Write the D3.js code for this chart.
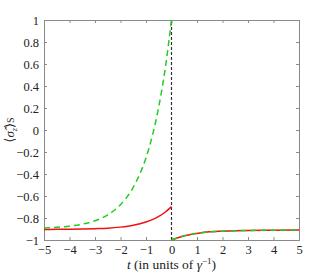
<!DOCTYPE html>
<head>
<script src="https://d3js.org/d3.v7.min.js"></script>
</head>
<style>
body { margin: 0; background: #fff; }
text { font-family: "Liberation Serif", "DejaVu Serif", serif; }
</style>
<body>
<svg></svg>
<script>
    // values
    var tBefore = [-5, -4.5, -4, -3.5, -3, -2.5, -2, -1.5, -1, -0.75, -0.5, -0.25, 0];
    var greenBefore = [-0.891, -0.885, -0.874, -0.856, -0.825, -0.771, -0.679, -0.521, -0.252, -0.052, 0.21, 0.552, 1.0];
    var redBefore = [-0.904, -0.903, -0.902, -0.9, -0.897, -0.893, -0.883, -0.866, -0.836, -0.815, -0.786, -0.748, -0.697];
    var tAfter = [0, 0.25, 0.5, 0.75, 1, 1.5, 2, 2.5, 3, 4, 5];
    var bothAfter = [-1.0, -0.979, -0.962, -0.949, -0.94, -0.926, -0.92, -0.916, -0.913, -0.911, -0.91];
    var xTicks = [-5, -4, -3, -2, -1, 0, 1, 2, 3, 4, 5];
    var yTicks = [-1, -0.8, -0.6, -0.4, -0.2, 0, 0.2, 0.4, 0.6, 0.8, 1];

    var width = 331, height = 274;
    var margin = {top: 20, right: 32, bottom: 34, left: 44};

    var svg = d3.select('svg').attr('width', width).attr('height', height);

    var x = d3.scaleLinear().domain([-5, 5]).range([margin.left, width - margin.right]);
    var y = d3.scaleLinear().domain([-1, 1]).range([height - margin.bottom, margin.top]);

    function fmt(d) { return d < 0 ? "\u2212" + Math.abs(d) : "" + d; }

    // axes with inward ticks on all four sides
    var axisColor = "#8a8a8a";
    function styleAxis(g) {
        g.select(".domain").attr("stroke", axisColor).attr("stroke-width", 1);
        g.selectAll(".tick line").attr("stroke", axisColor);
        g.selectAll(".tick text").attr("fill", "#222").style("font-size", "12.5px");
    }
    svg.append("g").attr("transform", "translate(0," + y(-1) + ")")
        .call(d3.axisBottom(x).tickValues(xTicks).tickSize(-3).tickPadding(5).tickFormat(fmt))
        .call(styleAxis);
    svg.append("g").attr("transform", "translate(0," + y(1) + ")")
        .call(d3.axisTop(x).tickValues(xTicks).tickSize(-3).tickFormat(""))
        .call(styleAxis);
    svg.append("g").attr("transform", "translate(" + x(-5) + ",0)")
        .call(d3.axisLeft(y).tickValues(yTicks).tickSize(-3).tickPadding(5).tickFormat(fmt))
        .call(styleAxis);
    svg.append("g").attr("transform", "translate(" + x(5) + ",0)")
        .call(d3.axisRight(y).tickValues(yTicks).tickSize(-3).tickFormat(""))
        .call(styleAxis);

    // vertical marker at t = 0
    svg.append("line")
        .attr("x1", x(0)).attr("x2", x(0)).attr("y1", y(-1)).attr("y2", y(1))
        .attr("stroke", "#333").attr("stroke-width", 1.2).attr("stroke-dasharray", "3,2");

    var line = d3.line()
        .x(function (d) { return x(d[0]); })
        .y(function (d) { return y(d[1]); })
        .curve(d3.curveMonotoneX);

    function pairs(ts, vs) { return ts.map(function (t, i) { return [t, vs[i]]; }); }

    var red = "#f01010", green = "#22cc22";

    svg.append("path").datum(pairs(tBefore, redBefore)).attr("d", line)
        .attr("fill", "none").attr("stroke", red).attr("stroke-width", 1.5);
    svg.append("path").datum(pairs(tAfter, bothAfter)).attr("d", line)
        .attr("fill", "none").attr("stroke", red).attr("stroke-width", 1.5);
    svg.append("path").datum(pairs(tBefore, greenBefore)).attr("d", line)
        .attr("fill", "none").attr("stroke", green).attr("stroke-width", 1.5).attr("stroke-dasharray", "6,4");
    svg.append("path").datum(pairs(tAfter, bothAfter)).attr("d", line)
        .attr("fill", "none").attr("stroke", green).attr("stroke-width", 1.5).attr("stroke-dasharray", "6,4");

    // axis labels
    var xl = svg.append("text").attr("x", x(0)).attr("y", 269)
        .attr("text-anchor", "middle").style("font-size", "13.5px").attr("fill", "#222");
    xl.append("tspan").style("font-style", "italic").text("t");
    xl.append("tspan").text(" (in units of ");
    xl.append("tspan").style("font-style", "italic").text("\u03b3");
    xl.append("tspan").attr("dy", -5).style("font-size", "9px").text("\u22121");
    xl.append("tspan").attr("dy", 5).text(")");

    var yl = svg.append("text")
        .attr("transform", "translate(14," + y(0) + ")rotate(-90)")
        .attr("text-anchor", "middle").style("font-size", "13px").attr("fill", "#222");
    yl.append("tspan").text("\u27e8");
    yl.append("tspan").style("font-style", "italic").text("\u03c3\u0302");
    yl.append("tspan").attr("dy", 3).style("font-size", "8px").style("font-style", "italic").text("z");
    yl.append("tspan").attr("dy", -3).text("\u27e9");
    yl.append("tspan").style("font-size", "10px").text("S");
</script>
</body>
